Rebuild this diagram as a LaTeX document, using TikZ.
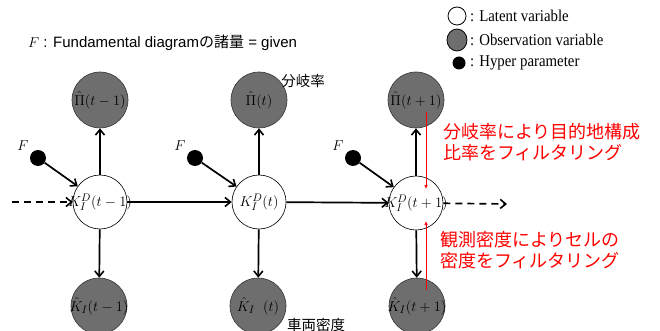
\documentclass[tikz,border=0pt]{standalone}
\usepackage{fontspec}
\usetikzlibrary{arrows.meta,shapes.geometric}
\setmainfont{Liberation Sans}
\newfontfamily\jp{Noto Sans CJK JP}
\newfontfamily\legfont[FakeStretch=0.9]{Liberation Serif}
\definecolor{obsgray}{RGB}{110,110,110}
\definecolor{redtxt}{RGB}{255,0,0}
\tikzset{
  lat/.style={circle, draw=black, line width=0.6pt, fill=white, minimum size=54pt, inner sep=0pt},
  obs/.style={circle, draw=black!80, line width=0.6pt, fill=obsgray, minimum size=56pt, inner sep=0pt},
  hyp/.style={circle, fill=black, minimum size=16pt, inner sep=0pt},
  mlab/.style={inner sep=0pt, font=\fontsize{15.5}{15.5}\selectfont},
  arr/.style={-{Straight Barb[length=5.5pt,width=9pt,line width=1.6pt]}, line width=1.7pt},
  dasharr/.style={arr, dash pattern=on 7pt off 5pt},
  redarr/.style={draw=redtxt, line width=0.8pt, -{Latex[length=4pt,width=3.5pt]}},
  redtext/.style={text=redtxt, font=\jp\fontsize{18}{21}\selectfont, align=left, anchor=north west, inner sep=0pt},
  leg/.style={anchor=west, inner sep=0pt, font=\legfont\fontsize{16.5}{16.5}\selectfont},
}
\begin{document}
\begin{tikzpicture}[x=1pt,y=-1pt]
\useasboundingbox (0,0) rectangle (660,331);

% title
\node[anchor=west, inner sep=0pt, font=\fontsize{15}{15}\selectfont] (title) at (28,43)
  {$F$ : Fundamental diagram{\jp の諸量} = given};

% legend
\node[circle, draw, line width=0.8pt, fill=white, minimum size=18pt, inner sep=0pt] (lg1) at (457,16) {};
\node[leg] (lgt1) at (470,16) {: Latent variable};
\node[ellipse, draw, line width=0.8pt, fill=obsgray, minimum width=20pt, minimum height=22pt, inner sep=0pt] (lg2) at (457,40) {};
\node[leg] (lgt2) at (470,40) {: Observation variable};
\node[circle, fill=black, minimum size=13pt, inner sep=0pt] (lg3) at (459,63) {};
\node[leg] (lgt3) at (470,63) {: Hyper parameter};

% latent nodes
\node[lat] (k1) at (100,202) {};
\node[lat] (k2) at (259,202) {};
\node[lat] (k3) at (416,203) {};
\node[mlab] at (k1) {$K_I^D(t-1)$};
\node[mlab] at (k2) {$K_I^D(t)$};
\node[mlab] at (k3) {$K_I^D(t+1)$};

% top observation nodes
\node[obs] (p1) at (100,100) {};
\node[obs] (p2) at (259,100) {};
\node[obs] (p3) at (416,100) {};
\node[mlab] at (p1) {$\hat{\Pi}(t-1)$};
\node[mlab] at (p2) {$\hat{\Pi}(t)$};
\node[mlab] at (p3) {$\hat{\Pi}(t+1)$};

% bottom observation nodes
\node[obs] (q1) at (99,306) {};
\node[obs] (q2) at (258,306) {};
\node[obs] (q3) at (417,306) {};
\node[mlab] at (q1) {$\hat{K}_I(t-1)$};
\node[mlab] at (q2) {$\hat{K}_I\;\;(t)$};
\node[mlab] at (q3) {$\hat{K}_I(t+1)$};

% hyper parameters
\node[hyp] (f1) at (38,158) {};
\node[hyp] (f2) at (195,158) {};
\node[hyp] (f3) at (353,158) {};
\node[mlab] (fl1) at (23,146) {$F$};
\node[mlab] (fl2) at (180,146) {$F$};
\node[mlab] (fl3) at (338,146) {$F$};

% labels
\node[inner sep=0pt, font=\jp\fontsize{14.5}{14.5}\selectfont] (bl1) at (303,81) {分岐率};
\node[inner sep=0pt, font=\jp\fontsize{14.5}{14.5}\selectfont] (bl2) at (316,325) {車両密度};

% arrows
\draw[arr] (f1) -- (k1);
\draw[arr] (f2) -- (k2);
\draw[arr] (f3) -- (k3);
\draw[arr] (k1) -- (p1);
\draw[arr] (k2) -- (p2);
\draw[arr] (k3) -- (p3);
\draw[arr] (k1) -- (q1);
\draw[arr] (k2) -- (q2);
\draw[arr] (k3) -- (q3);
\draw[arr] (k1) -- (k2);
\draw[arr] (k2) -- (k3);
\coordinate (din) at (12,202);
\coordinate (dout) at (507,204);
\draw[dasharr] (din) -- (k1);
\draw[dasharr] (k3) -- (dout);

% red annotations
\coordinate (r1s) at (426,112);
\coordinate (r1e) at (426,189);
\coordinate (r2s) at (426,290);
\coordinate (r2e) at (426,221);
\draw[redarr] (r1s) -- (r1e);
\draw[redarr] (r2s) -- (r2e);
\node[redtext] (rt1) at (443,123) {分岐率により目的地構成\\比率をフィルタリング};
\node[redtext] (rt2) at (440,231) {観測密度によりセルの\\密度をフィルタリング};
\end{tikzpicture}
\end{document}
